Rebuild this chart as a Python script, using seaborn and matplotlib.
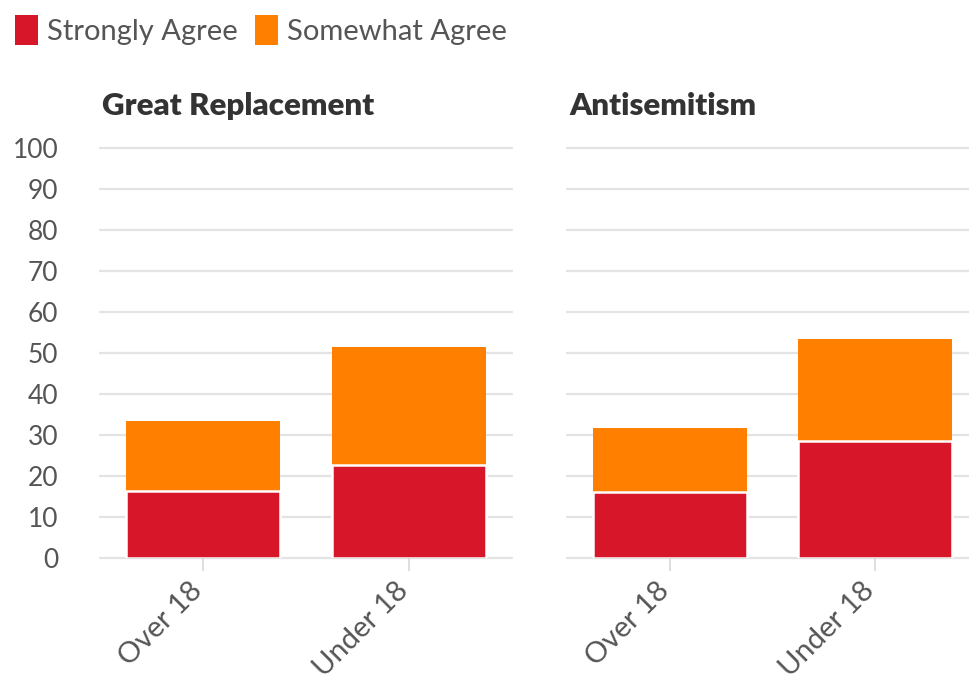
import matplotlib
matplotlib.use("Agg")
import matplotlib.pyplot as plt
import matplotlib.transforms as mtransforms
from matplotlib.patches import Patch
import seaborn as sns
import pandas as pd

# ---- data ----
groups = ["Over 18", "Under 18"]
panels = ["Great Replacement", "Antisemitism"]
strongly_gr = [16.2, 22.7]
somewhat_gr = [17.1, 28.6]
strongly_anti = [16.0, 28.5]
somewhat_anti = [15.7, 24.9]
y_ticks = [0, 10, 20, 30, 40, 50, 60, 70, 80, 90, 100]

RED = "#d71629"
ORANGE = "#ff8000"
GRID = "#e3e3e3"
TXT = "#333333"
TICK = "#555555"

sns.set_theme(style="white")
plt.rcParams["font.family"] = ["Lato", "DejaVu Sans"]

fig = plt.figure(figsize=(9.69, 6.78), dpi=100)
W, H = 969, 678

def ax_at(x0, x1, ytop, ybot):
    return fig.add_axes([x0 / W, 1 - ybot / H, (x1 - x0) / W, (ybot - ytop) / H])

ax1 = ax_at(100, 512, 148, 557.5)
ax2 = ax_at(567, 978, 148, 557.5)

data = [(ax1, panels[0], strongly_gr, somewhat_gr),
        (ax2, panels[1], strongly_anti, somewhat_anti)]

for i, (ax, title, s, w) in enumerate(data):
    df = pd.DataFrame({"group": groups,
                       "strong": s,
                       "total": [a + b for a, b in zip(s, w)]})
    for yv in y_ticks:
        ax.axhline(yv, color=GRID, lw=1.6, zorder=0, clip_on=False)
    sns.barplot(data=df, x="group", y="total", color=ORANGE, width=0.75,
                saturation=1, ax=ax, zorder=2, edgecolor="none")
    sns.barplot(data=df, x="group", y="strong", color=RED, width=0.75,
                saturation=1, ax=ax, zorder=3, edgecolor="white", linewidth=1.8)
    ax.set_xlim(-0.5, 1.5)
    ax.set_ylim(0, 100)
    ax.set_xlabel("")
    ax.set_ylabel("")
    for sp in ax.spines.values():
        sp.set_visible(False)
    ax.set_title(title, loc="left", fontsize=22.5, fontweight="heavy", color=TXT,
                 pad=24, x=0.006)
    ax.set_yticks(y_ticks)
    if i == 0:
        ax.set_yticklabels([str(v) for v in y_ticks])
        ax.tick_params(axis="y", length=0, pad=30, labelsize=19, labelcolor=TICK)
    else:
        ax.set_yticklabels([])
        ax.tick_params(axis="y", length=0)
    ax.tick_params(axis="x", length=9, width=1.2, color="#d8d8d8", pad=5,
                   labelsize=21, labelcolor=TICK, bottom=True)
    ax.set_xticks(range(len(groups)))
    ax.set_xticklabels(groups, rotation=45, ha="right", rotation_mode="anchor")
    offset = mtransforms.ScaledTranslation(-0.14, 0, fig.dpi_scale_trans)
    for lab in ax.get_xticklabels():
        lab.set_transform(lab.get_transform() + offset)

handles = [Patch(facecolor=RED, edgecolor="none", label="Strongly Agree"),
           Patch(facecolor=ORANGE, edgecolor="none", label="Somewhat Agree")]
leg = fig.legend(handles=handles, loc="upper left", bbox_to_anchor=(0.0, 1.0),
                 ncol=2, frameon=False, fontsize=21, handlelength=0.8,
                 handleheight=1.25, handletextpad=0.3, columnspacing=0.6,
                 borderaxespad=0.35, borderpad=0.15)
for t in leg.get_texts():
    t.set_color(TICK)

fig.savefig("out.png", dpi=100)
